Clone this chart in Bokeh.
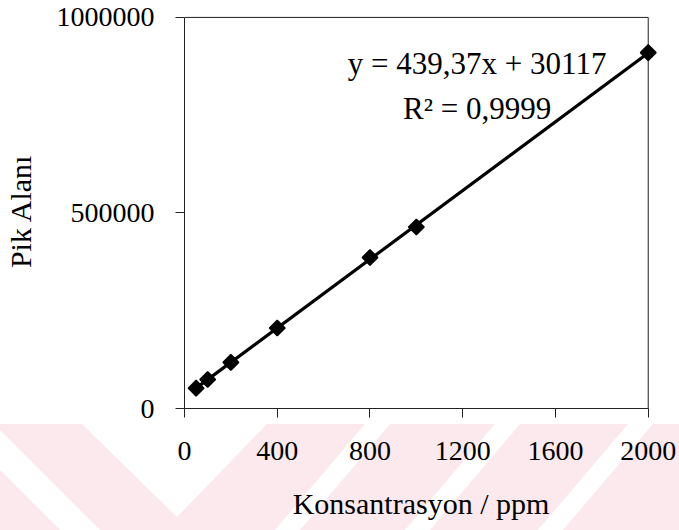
import math
from urllib.parse import quote
from bokeh.plotting import figure
from bokeh.models import FixedTicker, Range1d, ColumnDataSource
from bokeh.core.properties import value
from bokeh.embed import file_html
from bokeh.resources import INLINE

# Data
concentration = [50, 100, 200, 400, 800, 1000, 2000]
peak_area = [52000, 74000, 118000, 206000, 386000, 464000, 910000]
slope = 439.37
intercept = 30117
x_ticks = [0, 400, 800, 1200, 1600, 2000]
y_ticks = [0, 500000, 1000000]
y_tick_labels = ["0", "500000", "1000000"]
x_limits = [0, 2000]
y_limits = [0, 1000000]
eq_lines = ["y = 439,37x + 30117", "R\u00b2 = 0,9999"]
eq_x = [1262, 1262]
eq_y = [882000, 768000]

FONT = "Liberation Serif"
AX = "#222222"
W, H = 679, 530

p = figure(width=W, height=H, output_backend="svg", toolbar_location=None,
           x_range=Range1d(x_limits[0], x_limits[1] * 1.02),
           y_range=Range1d(y_limits[0], y_limits[1] * 1.01))
p.min_border_left = 182
p.min_border_right = 22
p.min_border_top = 13
p.min_border_bottom = 122
p.background_fill_color = "white"
p.border_fill_color = "white"
p.border_fill_alpha = 0.0
p.outline_line_color = None
p.xgrid.visible = False
p.ygrid.visible = False

# faint watermark band at the bottom of the page (page background, behind the chart)
PINK = "#fce9ed"
wm = [
    ([0, W, W, 0], [0, 0, H, H], "white"),
    ([0, W, W, 0], [424, 424, H, H], PINK),
    ([82, 267, 177], [424, 424, 517], "white"),
    ([0, 100, 60, 0], [430, 530, 530, 470], "white"),
    ([365, 390, 300, 275], [424, 424, 530, 530], "white"),
    ([495, 520, 430, 405], [424, 424, 530, 530], "white"),
    ([628, 653, 563, 538], [424, 424, 530, 530], "white"),
]
polys = "".join(
    '<polygon points="%s" fill="%s"/>' % (" ".join("%g,%g" % (a, b) for a, b in zip(xs, ys)), c)
    for xs, ys, c in wm)
svg_bg = '<svg xmlns="http://www.w3.org/2000/svg" width="%d" height="%d">%s</svg>' % (W, H, polys)
p.styles = {"background-image": 'url("data:image/svg+xml;utf8,%s")' % quote(svg_bg),
            "background-repeat": "no-repeat",
            "background-color": "white"}

# plot box: top and right borders
p.segment(x0=[x_limits[0], x_limits[1]], y0=[y_limits[1], y_limits[0]],
          x1=[x_limits[1], x_limits[1]], y1=[y_limits[1], y_limits[1]],
          line_color=AX, line_width=1)

# trend line
fit_x = [concentration[0], concentration[-1]]
fit_y = [slope * v + intercept for v in fit_x]
p.line(fit_x, fit_y, line_color="black", line_width=3.2)

src = ColumnDataSource(dict(x=concentration, y=peak_area))
p.scatter("x", "y", source=src, marker="square", size=11, angle=math.pi / 4,
          fill_color="black", line_color="black", line_width=1.5)

p.text(x=eq_x, y=eq_y, text=eq_lines, text_font=value(FONT),
       text_font_size="31px", text_align="center", text_baseline="middle",
       text_color="black")

for ax in (p.xaxis[0], p.yaxis[0]):
    ax.axis_line_color = AX
    ax.axis_line_width = 1
    ax.major_tick_line_color = AX
    ax.major_tick_out = 9
    ax.major_tick_in = 0
    ax.minor_tick_line_color = None
    ax.major_label_text_font = FONT
    ax.major_label_text_font_size = "28px"
    ax.major_label_text_color = "black"
    ax.axis_label_text_font = FONT
    ax.axis_label_text_font_size = "30px"
    ax.axis_label_text_font_style = "normal"
    ax.axis_label_text_color = "black"

p.xaxis.bounds = tuple(x_limits)
p.yaxis.bounds = tuple(y_limits)
p.xaxis.ticker = FixedTicker(ticks=x_ticks)
p.yaxis.ticker = FixedTicker(ticks=y_ticks)
p.yaxis.major_label_overrides = {t: l for t, l in zip(y_ticks, y_tick_labels)}
p.xaxis.major_label_standoff = 24
p.yaxis.major_label_standoff = 21
p.xaxis.axis_label = "Konsantrasyon / ppm"
p.yaxis.axis_label = "Pik Alanı"
p.xaxis.axis_label_standoff = 24
p.yaxis.axis_label_standoff = 17

open("out.html", "w").write(file_html(p, INLINE))
